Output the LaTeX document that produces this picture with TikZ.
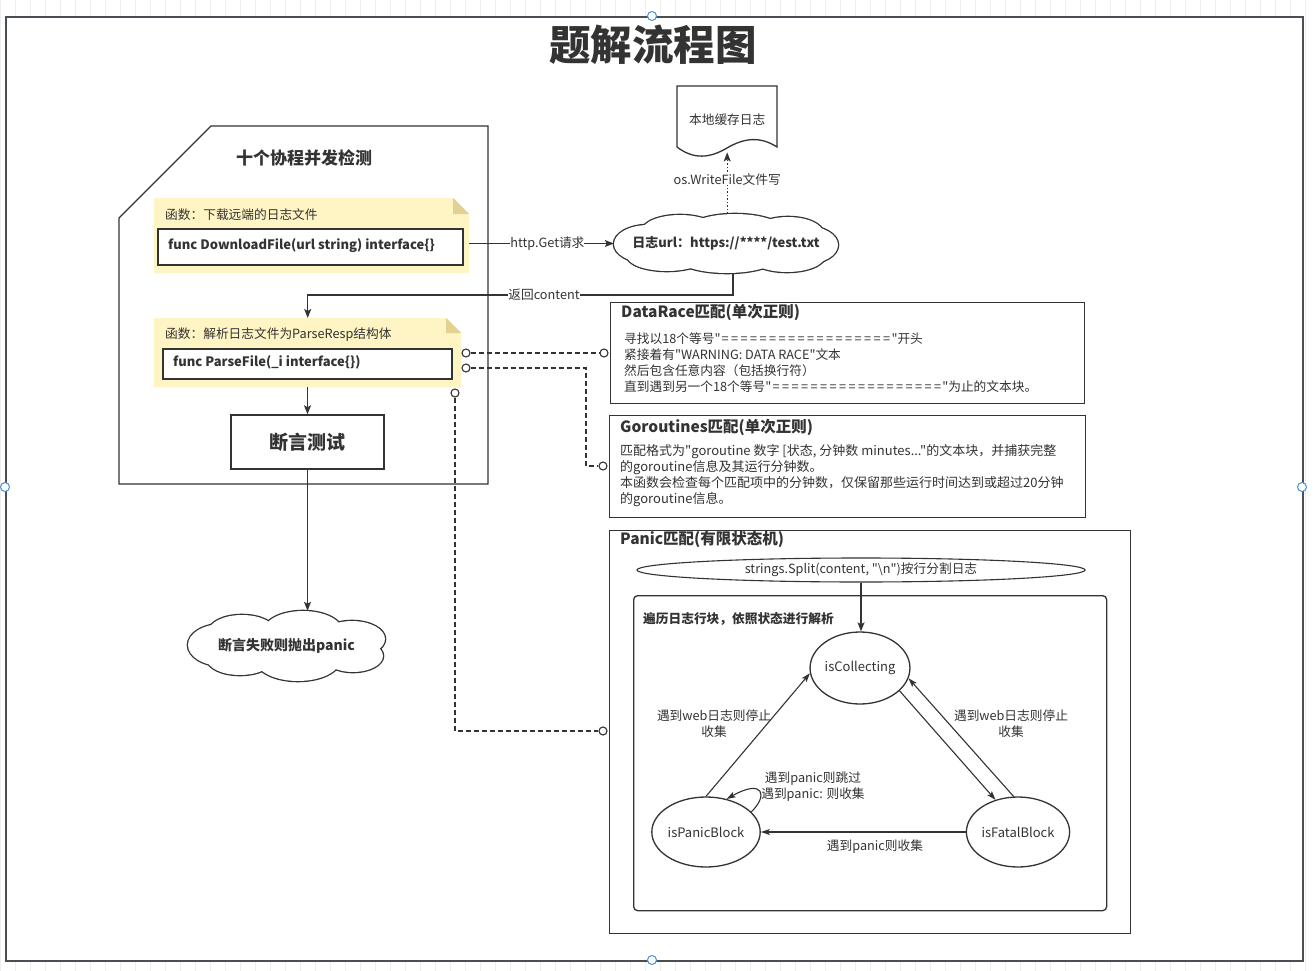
\documentclass[tikz,border=0pt]{standalone}
\usepackage{fontspec}
\setmainfont{Noto Sans CJK SC}[Ligatures=TeXOff]
\usetikzlibrary{arrows.meta,shapes.geometric,calc}
\definecolor{lnc}{HTML}{333333}
\definecolor{txc}{HTML}{333333}
\definecolor{framec}{HTML}{4A4F55}
\definecolor{gridc}{HTML}{EEEEEE}
\definecolor{notef}{HTML}{FFF4C3}
\definecolor{foldf}{HTML}{E3D28F}
\definecolor{handc}{HTML}{4A90D9}
\newcommand\fsz[2]{\fontsize{#1}{#2}\selectfont}
\newcommand\eqq{\makebox[9.5pt]{=}}
\newcommand\eqs{\eqq\eqq\eqq\eqq\eqq\eqq\eqq\eqq\eqq\eqq\eqq\eqq\eqq\eqq\eqq\eqq\eqq\eqq}
% cloud made of puffs: list of cx/cy/rx/ry
\newcommand\cloudpuffs[1]{%
\foreach \cx/\cy/\rx/\ry in {#1} {\draw[draw=lnc, line width=2.6pt] (\cx,\cy) ellipse [x radius=\rx, y radius=\ry];}
\foreach \cx/\cy/\rx/\ry in {#1} {\fill[white] (\cx,\cy) ellipse [x radius=\rx, y radius=\ry];}}
\tikzset{
  ln/.style={draw=lnc, line width=1.3pt},
  arr/.style={ln, -{Stealth[length=9pt,width=7pt,inset=2pt]}},
  sarr/.style={ln, line width=1.1pt, -{Stealth[length=9pt,width=6pt,inset=2pt]}},
  lbl/.style={inner sep=0pt, text=txc, font=\fsz{12.7}{16}},
  dsh/.style={draw=lnc, line width=1.2pt, dash pattern=on 5pt off 3pt},
  opendot/.style={circle, draw=lnc, fill=white, line width=1.1pt, minimum size=8pt, inner sep=0pt},
  fbox/.style={draw=lnc, fill=white, line width=1.8pt, inner sep=0pt},
  rbox/.style={draw=lnc, line width=1.4pt, inner sep=0pt},
  state/.style={ellipse, draw=lnc, line width=1.3pt, inner sep=0pt, text=txc, font=\fsz{13}{16}},
  handle/.style={circle, draw=handc, fill=white, line width=1pt, minimum size=9pt, inner sep=0pt},
}
\begin{document}
\begin{tikzpicture}[x=1pt,y=-1pt]
\useasboundingbox (0,0) rectangle (1315,971);
% background grid
\fill[white] (0,0) rectangle (1315,971);
\draw[gridc, line width=0.8pt, step=15] (0,0) grid (1315,971);
% outer frame
\node[draw=framec, fill=white, line width=2pt, minimum width=1297pt, minimum height=944pt, anchor=north west, inner sep=0pt] (frame) at (5,16) {};
% title
\node[inner sep=0pt, text=txc, font=\bfseries\fsz{41.5}{48}] (title) at (653,45) {题解流程图};
% card shape
\draw[ln, line width=1.4pt] (119,218) -- (211,126) -- (488,126) -- (488,484) -- (119,484) -- cycle;
\node[lbl, font=\bfseries\fsz{17}{20}] (cardt) at (304,158) {十个协程并发检测};
% note 1
\fill[notef] (154,198) -- (453,198) -- (469,214) -- (469,273) -- (154,273) -- cycle;
\fill[foldf] (453,198) -- (453,214) -- (469,214) -- cycle;
\node[inner sep=0pt, minimum width=315pt, minimum height=75pt, anchor=north west] (note1) at (154,198) {};
\node[lbl, anchor=west] (n1t) at (165,215) {函数：下载远端的日志文件};
\node[fbox, minimum width=305pt, minimum height=36pt, anchor=north west] (dl) at (157,228) {};
\node[lbl, anchor=west, font=\bfseries\fsz{13}{16}] (dlt) at (168,246) {func DownloadFile(url string) interface\{\}};
% note 2
\fill[notef] (154,318) -- (446,318) -- (461,333) -- (461,387) -- (154,387) -- cycle;
\fill[foldf] (446,318) -- (446,333) -- (461,333) -- cycle;
\node[inner sep=0pt, minimum width=307pt, minimum height=69pt, anchor=north west] (note2) at (154,318) {};
\node[lbl, anchor=west] (n2t) at (165,335) {函数：解析日志文件为ParseResp结构体};
\node[fbox, minimum width=289pt, minimum height=30pt, anchor=north west] (pf) at (162,348) {};
\node[lbl, anchor=west, font=\bfseries\fsz{13}{16}] (pft) at (173,362) {func ParseFile(\_i interface\{\})};
% assert box
\node[draw=lnc, line width=1.5pt, minimum width=153pt, minimum height=54pt, text=txc, font=\bfseries\fsz{19}{22}] (assert) at (307.5,442) {断言测试};
\draw[arr] (note2.south -| assert.north) -- (assert.north);
% fail cloud
\cloudpuffs{222/645/34/21, 242/631/33/16, 303/632/40/21, 352/639/33/18, 353/656/30/16, 298/660/42/21, 240/659/33/16, 287/646/75/24}
\node[inner sep=0pt, minimum width=197pt, minimum height=70pt, text=txc, font=\bfseries\fsz{14}{16}] (fail) at (286.5,646) {断言失败则抛出panic};
\draw[arr] (assert.south) -- (assert.south |- fail.north);
% url cloud
\cloudpuffs{648/244/34/19, 680/231/38/16, 735/232/50/18, 788/233/35/16, 806/245/32/19, 787/256/38/16, 727/256/52/17, 667/256/40/15, 726/244/95/22}
\node[inner sep=0pt, minimum width=224pt, minimum height=59pt, text=txc, font=\bfseries\fsz{13}{16}] (url) at (726,243.5) {日志url：https://****/test.txt};
\draw[arr] (url.west -| note1.east) -- (url.west) node[lbl, fill=white, pos=0.54] (getl) {http.Get请求};
% document
\draw[ln] (677,86) -- (777,86) -- (777,147) .. controls (760,136) and (744,138) .. (727,148) .. controls (710,158) and (694,160) .. (677,147) -- cycle;
\node[inner sep=0pt, minimum width=100pt, minimum height=66pt, anchor=north west, text=txc, font=\fsz{12.7}{16}] (doc) at (677,86) {本地缓存日志};
\draw[arr, dash pattern=on 1.5pt off 2pt] (url.north -| doc.south) -- (doc.south) node[lbl, fill=white, pos=0.56] (wfl) {os.WriteFile文件写};
% return content
\draw[arr] ([xshift=7pt]url.south) |- ([yshift=23pt]note2.north) -- (note2.north);
\node[lbl, fill=white] (retl) at (544,295) {返回content};
% DataRace box
\node[rbox, minimum width=474pt, minimum height=101pt, anchor=north west] (dr) at (610,302) {};
\node[lbl, anchor=west, font=\bfseries\fsz{15.5}{18}] (drt) at (621,312) {DataRace匹配(单次正则)};
\node[lbl, anchor=north west, align=left] (drb) at (624,332.5) {寻找以18个等号"\eqs"开头\\紧接着有"WARNING: DATA RACE"文本\\然后包含任意内容（包括换行符）\\直到遇到另一个18个等号"\eqs"为止的文本块。};
% Goroutines box
\node[rbox, minimum width=476pt, minimum height=102pt, anchor=north west] (gr) at (609,415) {};
\node[lbl, anchor=west, font=\bfseries\fsz{15.5}{18}] (grt) at (620,427) {Goroutines匹配(单次正则)};
\node[lbl, anchor=north west, align=left, font=\fsz{13}{16}] (grb) at (620,444.5) {匹配格式为"goroutine 数字 [状态, 分钟数 minutes..."的文本块，并捕获完整\\的goroutine信息及其运行分钟数。\\本函数会检查每个匹配项中的分钟数，仅保留那些运行时间达到或超过20分钟\\的goroutine信息。};
% Panic box
\node[rbox, minimum width=521pt, minimum height=403pt, anchor=north west] (pn) at (609,530) {};
\node[lbl, anchor=west, font=\bfseries\fsz{15.5}{18}] (pnt) at (620,539) {Panic匹配(有限状态机)};
\node[ellipse, draw=lnc, line width=1.1pt, minimum width=448pt, minimum height=24pt, inner sep=0pt, text=txc, font=\fsz{12.7}{16}] (split) at (861,570) {strings.Split(content, "\textbackslash n")按行分割日志};
\node[draw=lnc, line width=1.3pt, rounded corners=4pt, minimum width=473pt, minimum height=315pt, anchor=north west, inner sep=0pt] (loop) at (633,595) {};
\node[lbl, anchor=west, font=\bfseries\fsz{12.7}{16}] (loopt) at (643,619) {遍历日志行块，依照状态进行解析};
% states
\node[state, minimum width=96pt, minimum height=72pt] (ic) at (860,668) {isCollecting};
\node[state, minimum width=100pt, minimum height=70pt] (pb) at (706,832) {isPanicBlock};
\node[state, minimum width=96pt, minimum height=70pt] (fb) at (1018,832) {isFatalBlock};
\draw[arr] (split.south) -- (split.south |- ic.north);
\draw[sarr] (pb.north) -- (ic.186);
\draw[sarr] (ic.-30) -- (fb.125);
\draw[sarr] (fb.97) -- (ic.-12);
\draw[sarr] (fb.west) -- (pb.east);
\draw[sarr] (pb.24) .. controls (768,796) and (764,778) .. (pb.58);
\node[lbl, align=center] (l1) at (714,724) {遇到web日志则停止\\收集};
\node[lbl, align=center] (l2) at (1011,724) {遇到web日志则停止\\收集};
\node[lbl, align=center] (l3) at (813,787) {遇到panic则跳过\\遇到panic: 则收集};
\node[lbl] (l4) at (875,847) {遇到panic则收集};
% dashed connectors
\node[opendot] (c1) at (466,353) {};
\node[opendot] (c2) at (604,353) {};
\node[opendot] (c3) at (466,368) {};
\node[opendot] (c4) at (603,466) {};
\node[opendot] (c5) at (455,393) {};
\node[opendot] (c6) at (603,731) {};
\coordinate (k1) at (586,368);
\draw[dsh] (c1.east) -- (c2.west);
\draw[dsh] (c3.east) -- (k1) |- (c4.west);
\draw[dsh] (c5.south) |- (c6.west);
% selection handles
\node[handle] (h1) at (652,16) {};
\node[handle] (h2) at (5,487) {};
\node[handle] (h3) at (1302,487) {};
\node[handle] (h4) at (652,960) {};
\end{tikzpicture}
\end{document}
